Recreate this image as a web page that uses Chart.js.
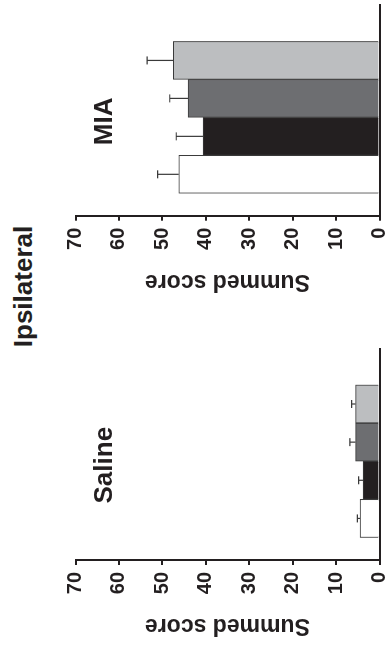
<!DOCTYPE html>
<html>
<head>
<meta charset="utf-8">
<script src="https://cdn.jsdelivr.net/npm/chart.js@4.4.1/dist/chart.umd.min.js"></script>
<style>
  html, body { margin: 0; padding: 0; background: #fff; overflow: hidden; }
  body { width: 387px; height: 649px; position: relative; }
  /* figure is drawn upright then turned a quarter turn, like the scan */
  #figure {
    position: absolute; left: 0; top: 0;
    width: 649px; height: 387px;
    transform-origin: 0 0;
    transform: translateY(649px) rotate(-90deg);
  }
  #figure canvas { position: absolute; top: 0; }
  #title {
    position: absolute; left: 262.5px; top: 10px; width: 200px;
    text-align: center;
    font: bold 26px/26px "Liberation Sans", Arial, sans-serif;
    color: #231f20;
  }
</style>
</head>
<body>
<div id="figure">
  <div id="title">Ipsilateral</div>
  <canvas id="salineChart" width="330" height="387" style="left:0px;width:330px;height:387px"></canvas>
  <canvas id="miaChart" width="319" height="387" style="left:330px;width:319px;height:387px"></canvas>
</div>
<script>
// datos
const groups = ['Saline', 'MIA'];
const barColors = ['#ffffff', '#231f20', '#6d6e71', '#bcbec0'];
const salineMeans = [4.5, 3.8, 5.5, 5.5];
const salineErrors = [0.6, 1.0, 1.3, 0.9];
const miaMeans = [46.2, 40.6, 44.1, 47.5];
const miaErrors = [4.9, 6.2, 4.2, 6.0];
const scoreMin = 0;
const scoreMax = 70;
const scoreStep = 10;

const FONT = '"Liberation Sans", Arial, sans-serif';
const INK = '#231f20';

// barras de error solo hacia arriba, con tapa
const errorBars = {
    id: 'errorBars',
    afterDatasetsDraw(chart, args, opts) {
        const ctx = chart.ctx;
        const yScale = chart.scales.y;
        const ds = chart.data.datasets[0];
        const meta = chart.getDatasetMeta(0);
        ctx.save();
        ctx.strokeStyle = '#3a3a3a';
        ctx.lineWidth = 1.2;
        meta.data.forEach((bar, i) => {
            const top = yScale.getPixelForValue(ds.data[i].y + opts.errors[i]);
            ctx.beginPath();
            ctx.moveTo(bar.x, bar.y);
            ctx.lineTo(bar.x, top);
            ctx.moveTo(bar.x - 4, top);
            ctx.lineTo(bar.x + 4, top);
            ctx.stroke();
        });
        ctx.restore();
    }
};

// nombre del grupo encima de las barras
const groupLabel = {
    id: 'groupLabel',
    afterDraw(chart, args, opts) {
        const meta = chart.getDatasetMeta(0);
        const first = meta.data[0].x;
        const last = meta.data[meta.data.length - 1].x;
        const ctx = chart.ctx;
        ctx.save();
        ctx.font = 'bold 26px ' + FONT;
        ctx.fillStyle = INK;
        ctx.textAlign = 'center';
        ctx.textBaseline = 'alphabetic';
        ctx.fillText(opts.text, (first + last) / 2 - 4, 112);
        ctx.restore();
    }
};

function makePanel(canvasId, group, means, errors, pad) {
    const ctx = document.getElementById(canvasId);
    return new Chart(ctx, {
        type: 'bar',
        data: {
            datasets: [{
                data: means.map((v, i) => ({ x: i + 1, y: v })),
                backgroundColor: barColors,
                borderColor: '#3a3a3a',
                borderWidth: 1,
                barPercentage: 1,
                categoryPercentage: 1
            }]
        },
        options: {
            responsive: false,
            devicePixelRatio: 1,
            animation: false,
            layout: { padding: pad },
            scales: {
                x: {
                    type: 'linear',
                    offset: false,
                    min: -0.09,
                    max: 5.46,
                    ticks: { display: false, stepSize: 1, includeBounds: false },
                    grid: { display: false, drawTicks: false, offset: false },
                    border: { display: true, color: INK, width: 2 },
                    afterFit: s => { s.height = 0; s.paddingLeft = 0; s.paddingRight = 0; }
                },
                y: {
                    min: scoreMin,
                    max: scoreMax,
                    ticks: {
                        stepSize: scoreStep,
                        color: INK,
                        padding: 7,
                        font: { family: FONT, size: 20, weight: 'bold' }
                    },
                    grid: {
                        display: true,
                        drawOnChartArea: false,
                        drawTicks: true,
                        tickLength: 5,
                        color: INK,
                        lineWidth: 2
                    },
                    border: { display: true, color: INK, width: 2 },
                    title: {
                        display: true,
                        text: 'Summed score',
                        color: INK,
                        padding: 0,
                        font: { family: FONT, size: 23, weight: 'bold' }
                    },
                    afterFit: s => { s.width = 79; s.paddingTop = 0; s.paddingBottom = 0; }
                }
            },
            plugins: {
                legend: { display: false },
                tooltip: { enabled: false },
                errorBars: { errors: errors },
                groupLabel: { text: group }
            }
        },
        plugins: [errorBars, groupLabel]
    });
}

makePanel('salineChart', groups[0], salineMeans, salineErrors,
    { left: 10, right: 29.3, top: 75.5, bottom: 7.5 });
makePanel('miaChart', groups[1], miaMeans, miaErrors,
    { left: 24.3, right: 5, top: 75.5, bottom: 7.5 });
</script>
</body>
</html>
